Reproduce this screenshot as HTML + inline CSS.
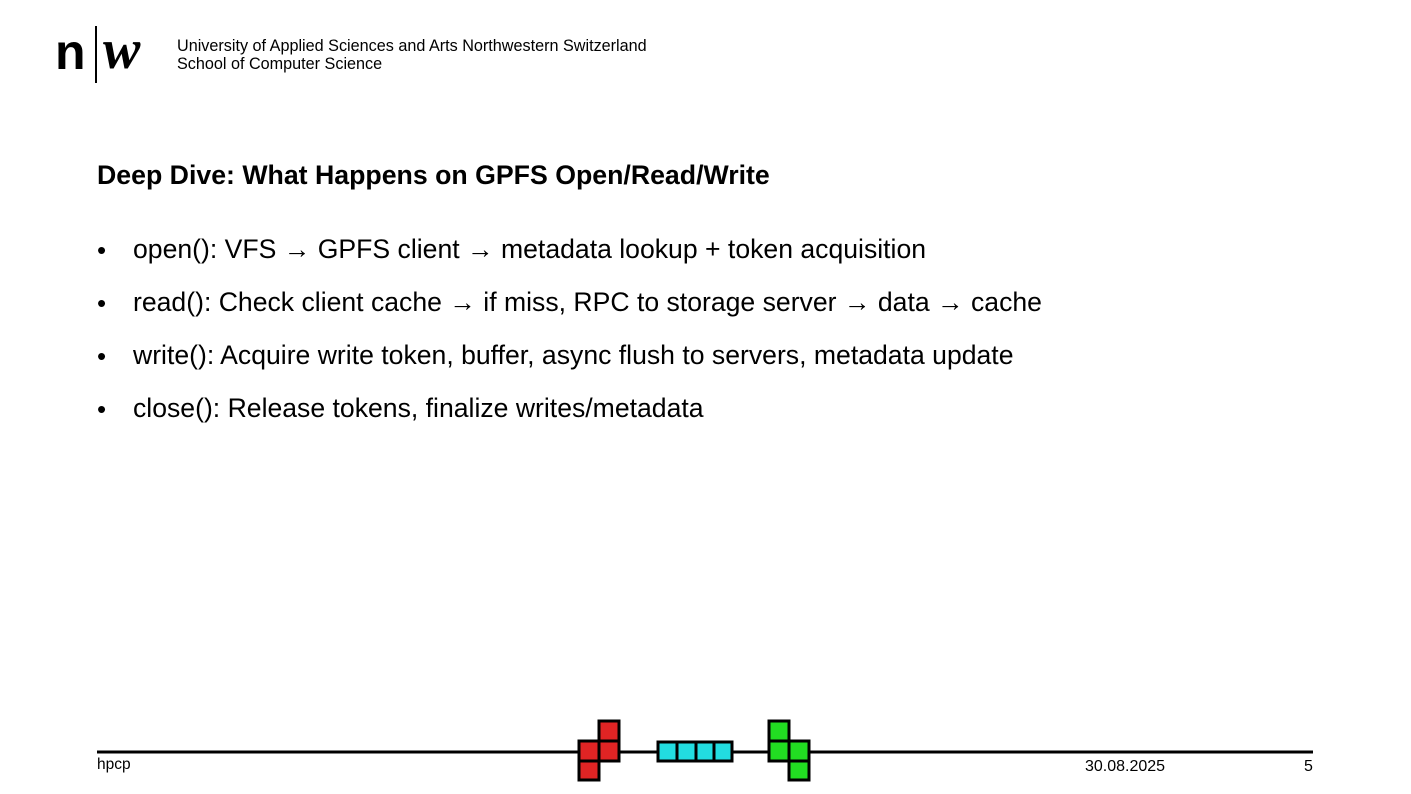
<!DOCTYPE html>
<html><head><meta charset="utf-8"><style>
body{margin:0;width:1411px;height:794px;background:#fff;position:relative;overflow:hidden;font-family:"Liberation Sans",Arial,sans-serif;color:#000}
.abs{position:absolute;white-space:nowrap}
.b{font-size:26.6px;left:133px}
.dot{left:97px;font-size:26px}
</style></head><body>
<div class="abs" style="left:55px;top:22px;font-size:50px;font-weight:bold;line-height:60px">n</div>
<div class="abs" style="left:95px;top:26px;width:2px;height:57px;background:#000"></div>
<div class="abs" style="left:103px;top:20px;font-size:56px;font-family:'Liberation Serif',serif;font-style:italic;font-weight:bold;line-height:60px">w</div>
<div class="abs" style="left:177px;top:37px;font-size:16.2px;line-height:18px">University of Applied Sciences and Arts Northwestern Switzerland<br>School of Computer Science</div>
<div class="abs" style="left:97px;top:160px;font-size:26.7px;font-weight:bold">Deep Dive: What Happens on GPFS Open/Read/Write</div>
<div class="abs dot" style="top:235px">•</div>
<div class="abs b" style="top:234px">open(): VFS → GPFS client → metadata lookup + token acquisition</div>
<div class="abs dot" style="top:288px">•</div>
<div class="abs b" style="top:287px">read(): Check client cache → if miss, RPC to storage server → data → cache</div>
<div class="abs dot" style="top:341px">•</div>
<div class="abs b" style="top:340px">write(): Acquire write token, buffer, async flush to servers, metadata update</div>
<div class="abs dot" style="top:394px">•</div>
<div class="abs b" style="top:393px">close(): Release tokens, finalize writes/metadata</div>
<svg class="abs" style="left:0;top:0" width="1411" height="794">
<line x1="97" y1="752" x2="1313" y2="752" stroke="#000" stroke-width="3"/>
<g stroke="#000" stroke-width="3" fill="#e02424">
<rect x="599" y="721" width="20" height="20"/><rect x="579" y="741" width="20" height="20"/><rect x="599" y="741" width="20" height="20"/><rect x="579" y="761" width="20" height="19"/></g>
<g stroke="#000" stroke-width="3" fill="#22dde0">
<rect x="658" y="742" width="19" height="19"/><rect x="677" y="742" width="19" height="19"/><rect x="696" y="742" width="18" height="19"/><rect x="714" y="742" width="18" height="19"/></g>
<g stroke="#000" stroke-width="3" fill="#22dd22">
<rect x="769" y="721" width="20" height="20"/><rect x="769" y="741" width="20" height="20"/><rect x="789" y="741" width="20" height="20"/><rect x="789" y="761" width="20" height="19"/></g>
</svg>
<div class="abs" style="left:97px;top:756px;font-size:15.5px">hpcp</div>
<div class="abs" style="left:1085px;top:758px;font-size:16px">30.08.2025</div>
<div class="abs" style="left:1304px;top:758px;font-size:16px">5</div>
</body></html>
